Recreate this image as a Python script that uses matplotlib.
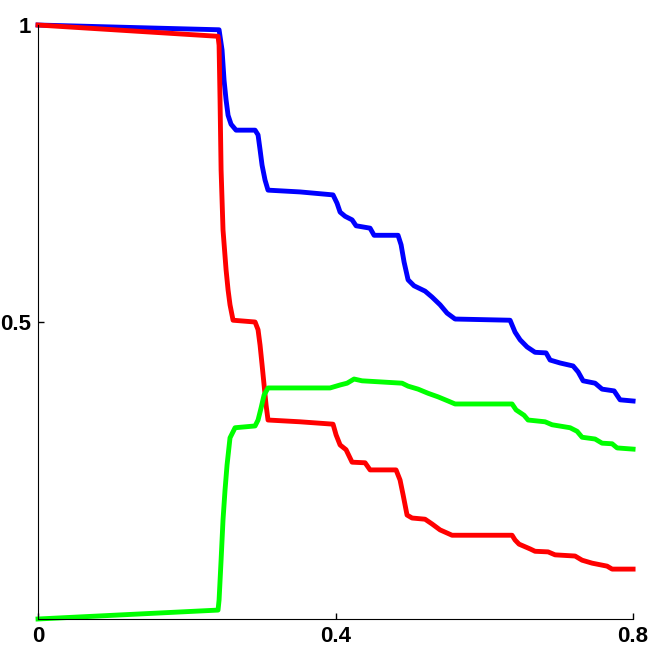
import numpy as np
import matplotlib.pyplot as plt

# curve values
blue_x = [0, 0.2434, 0.2474, 0.2501, 0.2528, 0.2555, 0.2595, 0.2662, 0.2918, 0.2958, 0.2985,
          0.3012, 0.3052, 0.3092, 0.3523, 0.3966, 0.4020, 0.4061, 0.4128, 0.4222, 0.4276,
          0.4464, 0.4518, 0.4840, 0.4881, 0.4921, 0.4975, 0.5055, 0.5203, 0.5297, 0.5405,
          0.5499, 0.5607, 0.6346, 0.6413, 0.6481, 0.6575, 0.6682, 0.6830, 0.6884, 0.7019,
          0.7193, 0.7261, 0.7328, 0.7489, 0.7583, 0.7745, 0.7825, 0.800]
blue_y = [1.0, 0.992, 0.958, 0.907, 0.874, 0.848, 0.833, 0.823, 0.823, 0.815, 0.790,
          0.764, 0.739, 0.722, 0.719, 0.714, 0.700, 0.685, 0.678, 0.672, 0.662,
          0.658, 0.646, 0.646, 0.630, 0.601, 0.571, 0.561, 0.552, 0.542, 0.529,
          0.515, 0.505, 0.503, 0.483, 0.470, 0.458, 0.449, 0.448, 0.436, 0.431,
          0.426, 0.416, 0.401, 0.397, 0.387, 0.384, 0.369, 0.367]

red_x = [0, 0.2420, 0.2434, 0.2447, 0.2461, 0.2487, 0.2528, 0.2555, 0.2581, 0.2622, 0.2918,
         0.2958, 0.2985, 0.3012, 0.3039, 0.3066, 0.3092, 0.3523, 0.3966, 0.4007, 0.4061,
         0.4141, 0.4222, 0.4397, 0.4464, 0.4813, 0.4867, 0.4908, 0.4961, 0.5029, 0.5203,
         0.5297, 0.5405, 0.5566, 0.6373, 0.6413, 0.6467, 0.6615, 0.6682, 0.6857, 0.6951,
         0.7220, 0.7314, 0.7449, 0.7650, 0.7718, 0.800]
red_y = [1.0, 0.981, 0.966, 0.874, 0.756, 0.655, 0.588, 0.554, 0.529, 0.503, 0.500,
         0.487, 0.461, 0.428, 0.394, 0.360, 0.335, 0.332, 0.328, 0.310, 0.293,
         0.285, 0.264, 0.263, 0.251, 0.251, 0.234, 0.209, 0.175, 0.170, 0.168,
         0.160, 0.150, 0.141, 0.141, 0.133, 0.126, 0.118, 0.114, 0.113, 0.108,
         0.106, 0.099, 0.094, 0.089, 0.084, 0.084]

green_x = [0, 0.2420, 0.2434, 0.2461, 0.2487, 0.2514, 0.2541, 0.2581, 0.2649, 0.2918, 0.2958,
           0.2998, 0.3039, 0.3092, 0.3926, 0.4061, 0.4155, 0.4249, 0.4356, 0.4894, 0.4975,
           0.5109, 0.5244, 0.5378, 0.5513, 0.5607, 0.6373, 0.6427, 0.6534, 0.6588, 0.6817,
           0.6911, 0.7153, 0.7247, 0.7314, 0.7489, 0.7583, 0.7718, 0.7785, 0.800]
green_y = [0.0, 0.015, 0.032, 0.099, 0.167, 0.217, 0.259, 0.305, 0.322, 0.325, 0.335,
           0.355, 0.377, 0.389, 0.389, 0.394, 0.397, 0.404, 0.401, 0.397, 0.392,
           0.387, 0.380, 0.374, 0.367, 0.362, 0.362, 0.352, 0.343, 0.335, 0.332,
           0.327, 0.322, 0.316, 0.306, 0.303, 0.296, 0.295, 0.288, 0.286]

x_ticks = [0, 0.4, 0.8]
x_labels = ['0', '0.4', '0.8']
y_ticks = [0.5, 1]
y_labels = ['0.5', '1']

fig = plt.figure(figsize=(6.5, 6.5), dpi=100)
ax = fig.add_axes([0.0585, 0.0477, 0.9155, 0.9138])

ax.plot(blue_x, blue_y, color='#0000ff', linewidth=3.5, clip_on=False)
ax.plot(red_x, red_y, color='#ff0000', linewidth=3.5, clip_on=False)
ax.plot(green_x, green_y, color='#00ff00', linewidth=3.5, clip_on=False)

ax.set_xlim(0, 0.8)
ax.set_ylim(0, 1)
ax.spines['top'].set_visible(False)
ax.spines['right'].set_visible(False)
ax.set_xticks(x_ticks)
ax.set_xticklabels(x_labels)
ax.set_yticks(y_ticks)
ax.set_yticklabels(y_labels)
ax.tick_params(direction='in', length=4, width=1, pad=5)
for lbl in ax.get_xticklabels() + ax.get_yticklabels():
    lbl.set_fontfamily('Liberation Sans')
    lbl.set_fontweight('bold')
    lbl.set_fontsize(16)

fig.savefig('out.png', dpi=100)
